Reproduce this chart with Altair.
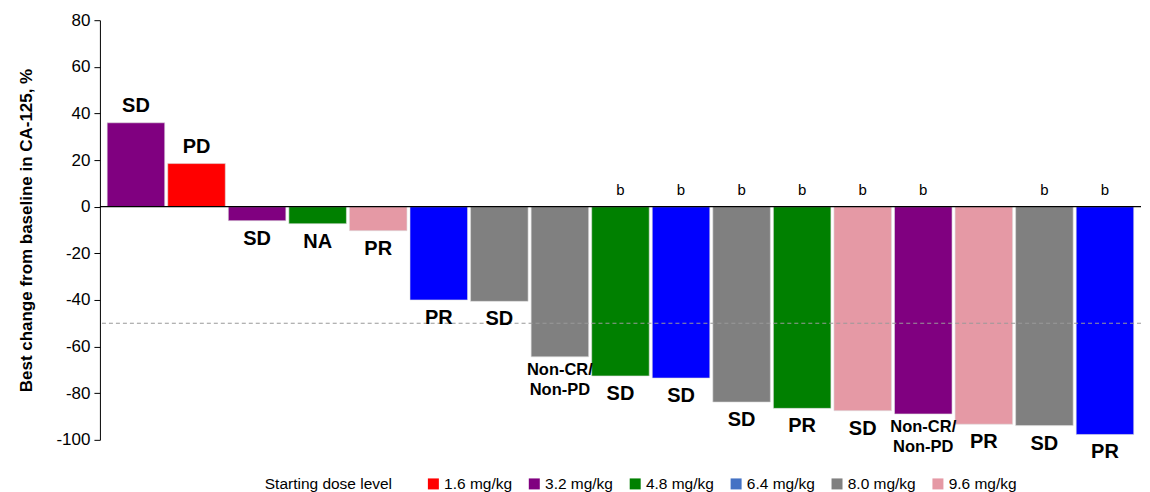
import altair as alt
import pandas as pd

patients = [f"P{i:02d}" for i in range(1, 18)]
changes = [36.0, 18.5, -6.0, -7.3, -10.3, -40.0, -40.6, -64.4, -72.6, -73.5,
           -83.8, -86.5, -87.5, -88.9, -93.3, -93.9, -97.7]
doses = ["3.2 mg/kg", "1.6 mg/kg", "3.2 mg/kg", "4.8 mg/kg", "9.6 mg/kg", "6.4 mg/kg",
         "8.0 mg/kg", "8.0 mg/kg", "4.8 mg/kg", "6.4 mg/kg", "8.0 mg/kg", "4.8 mg/kg",
         "9.6 mg/kg", "3.2 mg/kg", "9.6 mg/kg", "8.0 mg/kg", "6.4 mg/kg"]
responses = ["SD", "PD", "SD", "NA", "PR", "PR", "SD", "Non-CR/\nNon-PD", "SD", "SD",
             "SD", "PR", "SD", "Non-CR/\nNon-PD", "PR", "SD", "PR"]
footnotes = ["", "", "", "", "", "", "", "", "b", "b", "b", "b", "b", "b", "", "b", "b"]

dose_levels = ["1.6 mg/kg", "3.2 mg/kg", "4.8 mg/kg", "6.4 mg/kg", "8.0 mg/kg", "9.6 mg/kg"]
legend_colors = ["#FF0000", "#800080", "#008000", "#4472C4", "#808080", "#E599A5"]
bar_colors = {"1.6 mg/kg": "#FF0000", "3.2 mg/kg": "#800080", "4.8 mg/kg": "#008000",
              "6.4 mg/kg": "#0000FF", "8.0 mg/kg": "#808080", "9.6 mg/kg": "#E599A5"}

threshold = [-50]

df = pd.DataFrame({
    "patient": patients,
    "change": changes,
    "dose": doses,
    "response": responses,
    "foot": footnotes,
})
df["fillc"] = df["dose"].map(bar_colors)
df["multi"] = df["response"].str.contains("\n")

legend_df = pd.DataFrame({"dose": dose_levels})

FONT = "Liberation Sans"

x_enc = alt.X("patient:N", sort=patients, axis=None,
              scale=alt.Scale(paddingInner=0.05, paddingOuter=0.12))

base = alt.Chart(df)

bars = base.mark_bar(stroke="#dddddd", strokeWidth=0.6).encode(
    x=x_enc,
    y=alt.Y("change:Q",
            scale=alt.Scale(domain=[-100, 80], nice=False, zero=False),
            axis=alt.Axis(values=list(range(-100, 81, 20)),
                          labelExpr="'' + datum.value",
                          title="Best change from baseline in CA-125, %",
                          titleFont=FONT, titleFontSize=17, titleFontWeight="bold",
                          titleColor="black", titlePadding=20,
                          labelFont=FONT, labelFontSize=17, labelColor="black",
                          labelPadding=4, tickSize=6, tickColor="black",
                          domainColor="black", grid=False)),
    fill=alt.Fill("fillc:N", scale=None),
)

legend_layer = alt.Chart(legend_df).mark_point(shape="square", filled=True, opacity=0).encode(
    x=alt.value(0), y=alt.value(0),
    color=alt.Color("dose:N",
                    scale=alt.Scale(domain=dose_levels, range=legend_colors),
                    legend=alt.Legend(title="Starting dose level", orient="none",
                                      direction="horizontal", titleOrient="left",
                                      legendX=165, legendY=456,
                                      titleFont=FONT, titleFontSize=15.5, titleFontWeight="normal",
                                      titleColor="black", titlePadding=33,
                                      labelFont=FONT, labelFontSize=15.5, labelColor="black",
                                      symbolType="square", symbolSize=121,
                                      symbolStrokeWidth=0, symbolOpacity=1,
                                      columnPadding=14, labelOffset=3)),
)

pos_labels = base.transform_filter("datum.change >= 0").mark_text(
    font=FONT, fontSize=20, fontWeight="bold", baseline="bottom", dy=-7, color="black"
).encode(x=x_enc, y="change:Q", text="response:N")

neg_single = base.transform_filter("datum.change < 0 && !datum.multi").mark_text(
    font=FONT, fontSize=20, fontWeight="bold", baseline="top", dy=8, color="black"
).encode(x=x_enc, y="change:Q", text="response:N")

neg_multi = base.transform_filter("datum.change < 0 && datum.multi").mark_text(
    font=FONT, fontSize=16.5, fontWeight="bold", baseline="top", dy=5, color="black",
    lineBreak="\n", lineHeight=20
).encode(x=x_enc, y="change:Q", text="response:N")

foot_labels = base.transform_filter("datum.foot != ''").mark_text(
    font=FONT, fontSize=15, baseline="bottom", dy=-9, color="black"
).encode(x=x_enc, y=alt.datum(0), text="foot:N")

zero_line = alt.Chart(pd.DataFrame({"v": [0]})).mark_rule(color="black", strokeWidth=1.2).encode(
    y="v:Q")

dash_line = alt.Chart(pd.DataFrame({"v": threshold})).mark_rule(
    color="#999999", strokeDash=[4, 3], strokeWidth=1.2).encode(y="v:Q")

chart = alt.layer(bars, zero_line, dash_line, pos_labels, neg_single, neg_multi, foot_labels,
                  legend_layer).properties(
    width=1042, height=420,
    padding={"left": 9, "top": 3, "right": 0, "bottom": 0},
).configure_view(stroke=None)

chart.save("out.html", embed_options={"renderer": "svg", "actions": False})
